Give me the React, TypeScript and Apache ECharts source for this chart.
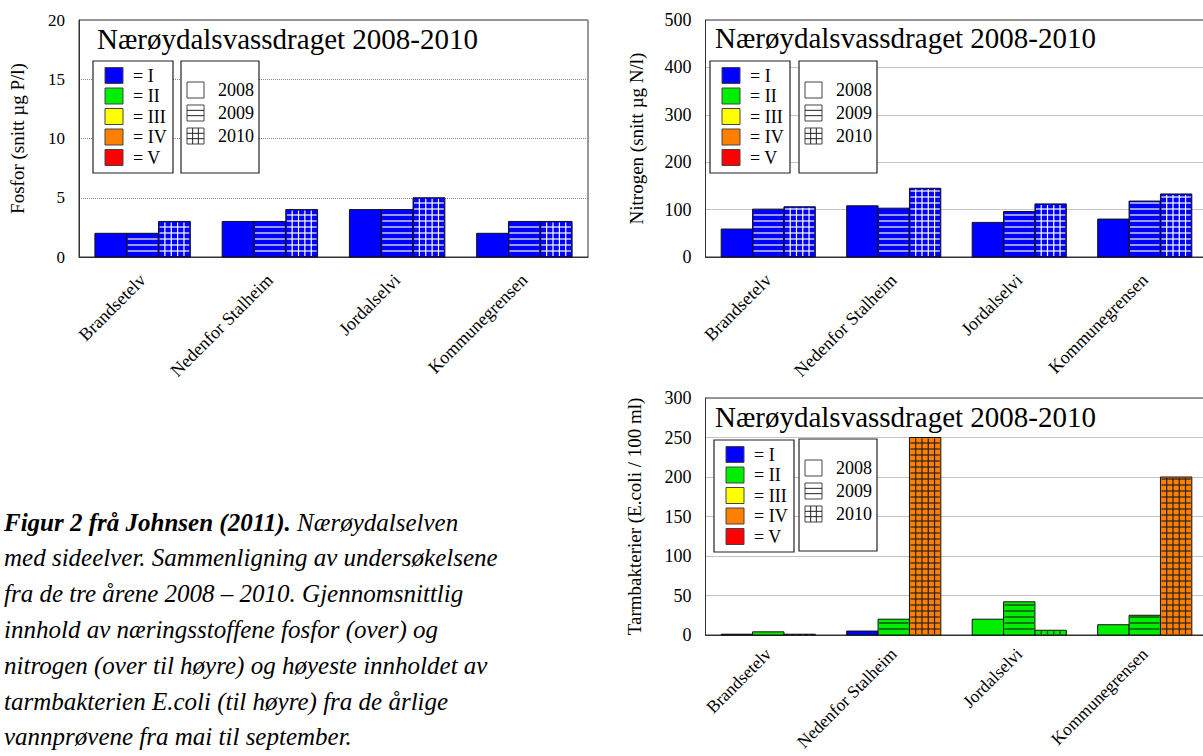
import React, { useEffect, useRef } from "react";
import * as echarts from "echarts";

const FONT = "Liberation Serif";

const categories = ["Brandsetelv", "Nedenfor Stalheim", "Jordalselvi", "Kommunegrensen"];
const years = ["2008", "2009", "2010"];
const classLabels = ["= I", "= II", "= III", "= IV", "= V"];
const classColors = ["#0000ff", "#00ee00", "#ffff00", "#ff8000", "#ff0000"];
const chartTitle = "Nærøydalsvassdraget 2008-2010";

// Fosfor (snitt µg P/l)
const fosfor2008 = [2, 3, 4, 2];
const fosfor2009 = [2, 3, 4, 3];
const fosfor2010 = [3, 4, 5, 3];
const fosforClass2008 = [0, 0, 0, 0];
const fosforClass2009 = [0, 0, 0, 0];
const fosforClass2010 = [0, 0, 0, 0];

// Nitrogen (snitt µg N/l)
const nitrogen2008 = [59, 108, 73, 80];
const nitrogen2009 = [101, 103, 96, 118];
const nitrogen2010 = [106, 145, 112, 133];
const nitrogenClass2008 = [0, 0, 0, 0];
const nitrogenClass2009 = [0, 0, 0, 0];
const nitrogenClass2010 = [0, 0, 0, 0];

// Tarmbakterier (E.coli / 100 ml)
const ecoli2008 = [1, 5, 20, 13];
const ecoli2009 = [4, 20, 42, 25];
const ecoli2010 = [1, 250, 6, 200];
const ecoliClass2008 = [0, 0, 1, 1];
const ecoliClass2009 = [1, 1, 1, 1];
const ecoliClass2010 = [0, 3, 1, 3];

const captionBold = "Figur 2 frå Johnsen (2011).";
const captionLines = [
  " Nærøydalselven",
  "med sideelver. Sammenligning av undersøkelsene",
  "fra de tre årene 2008 – 2010. Gjennomsnittlig",
  "innhold av næringsstoffene fosfor (over) og",
  "nitrogen (over til høyre) og høyeste innholdet av",
  "tarmbakterien E.coli (til høyre) fra de årlige",
  "vannprøvene fra mai til september.",
];

function makeRenderItem(yearIdx: number) {
  return (params: any, api: any) => {
    const cat = api.value(0);
    const val = api.value(1);
    const cls = api.value(2);
    const base = api.coord([cat, 0]);
    const top = api.coord([cat, val]);
    const band = api.size([1, 0])[0];
    const bw = band * 0.25;
    const x0 = base[0] - 1.5 * bw + yearIdx * bw;
    const y0 = top[1];
    const y1 = base[1];
    const h = y1 - y0;
    const fill = classColors[cls];
    const lc = cls === 0 ? "#ffffff" : "#222222";
    const children: any[] = [
      { type: "rect", shape: { x: x0, y: y0, width: bw, height: h }, style: { fill, stroke: null } },
    ];
    if (yearIdx >= 1) {
      for (let yy = y1 - 6; yy > y0 + 1; yy -= 6) {
        children.push({
          type: "line",
          shape: { x1: x0 + 1, y1: yy, x2: x0 + bw - 1, y2: yy },
          style: { stroke: lc, lineWidth: 1.2 },
        });
      }
    }
    if (yearIdx === 2) {
      for (let k = 1; k < 5; k++) {
        const xx = x0 + (k * bw) / 5;
        children.push({
          type: "line",
          shape: { x1: xx, y1: y0 + 1, x2: xx, y2: y1 - 1 },
          style: { stroke: lc, lineWidth: 1.2 },
        });
      }
    }
    children.push({
      type: "rect",
      shape: { x: x0, y: y0, width: bw, height: h },
      style: { fill: "none", stroke: "#111", lineWidth: 1 },
    });
    return { type: "group", children };
  };
}

function seriesFor(gridIdx: number, values: number[][], classes: number[][]) {
  return values.map((vals, yi) => ({
    type: "custom",
    name: years[yi],
    xAxisIndex: gridIdx,
    yAxisIndex: gridIdx,
    encode: { x: 0, y: 1 },
    renderItem: makeRenderItem(yi),
    data: vals.map((v, ci) => [ci, v, classes[yi][ci]]),
    z: 3,
  }));
}

function legendGraphics(b1x: number, b1y: number, b2x: number, b2y: number) {
  const els: any[] = [];
  els.push({
    type: "rect",
    z: 50,
    shape: { x: b1x, y: b1y, width: 80, height: 112 },
    style: { fill: "#fff", stroke: "#222", lineWidth: 1.2 },
  });
  classLabels.forEach((lab, i) => {
    const cy = b1y + 14.5 + i * 20.5;
    els.push({
      type: "rect",
      z: 51,
      shape: { x: b1x + 12, y: cy - 8, width: 18, height: 16 },
      style: { fill: classColors[i], stroke: "#444", lineWidth: 1 },
    });
    els.push({
      type: "text",
      z: 51,
      style: { text: lab, x: b1x + 40, y: cy, fontSize: 18, fontFamily: FONT, fill: "#000", verticalAlign: "middle", align: "left" },
    });
  });
  els.push({
    type: "rect",
    z: 50,
    shape: { x: b2x, y: b2y, width: 78, height: 112 },
    style: { fill: "#fff", stroke: "#222", lineWidth: 1.2 },
  });
  years.forEach((yr, i) => {
    const cy = b2y + 29 + i * 23;
    const sx = b2x + 6;
    const sy = cy - 8;
    const w = 17;
    const hh = 16;
    els.push({
      type: "rect",
      z: 51,
      shape: { x: sx, y: sy, width: w, height: hh },
      style: { fill: "#fff", stroke: "#444", lineWidth: 1 },
    });
    if (i >= 1) {
      [1, 2].forEach((k) => {
        els.push({
          type: "line",
          z: 52,
          shape: { x1: sx, y1: sy + (k * hh) / 3, x2: sx + w, y2: sy + (k * hh) / 3 },
          style: { stroke: "#222", lineWidth: 1 },
        });
      });
    }
    if (i === 2) {
      [1, 2].forEach((k) => {
        els.push({
          type: "line",
          z: 52,
          shape: { x1: sx + (k * w) / 3, y1: sy, x2: sx + (k * w) / 3, y2: sy + hh },
          style: { stroke: "#222", lineWidth: 1 },
        });
      });
    }
    els.push({
      type: "text",
      z: 51,
      style: { text: yr, x: b2x + 37, y: cy, fontSize: 18, fontFamily: FONT, fill: "#000", verticalAlign: "middle", align: "left" },
    });
  });
  return els;
}

function titleGraphic(x: number, y: number) {
  return {
    type: "text",
    z: 50,
    style: { text: chartTitle, x, y, fontSize: 29, fontFamily: FONT, fill: "#000", verticalAlign: "middle", align: "left" },
  };
}

export default function App() {
  const ref = useRef<HTMLDivElement>(null);
  useEffect(() => {
    if (!ref.current) return;
    const chart = echarts.init(ref.current, null, { renderer: "svg" });
    const gridBase = {
      show: true,
      borderColor: "#333",
      borderWidth: 1,
      backgroundColor: "transparent",
      containLabel: false,
      outerBoundsMode: "none",
    };
    const xAxisBase = (i: number, margin: number, fs: number) => ({
      type: "category",
      gridIndex: i,
      data: categories,
      axisTick: { show: false },
      axisLine: { lineStyle: { color: "#333", width: 1 } },
      axisLabel: {
        rotate: 45,
        interval: 0,
        fontSize: fs,
        color: "#000",
        fontFamily: FONT,
        margin,
      },
      splitLine: { show: false },
    });
    const yAxisBase = (i: number, max: number, interval: number, name: string, gap: number, fs: number) => ({
      type: "value",
      gridIndex: i,
      min: 0,
      max,
      interval,
      name,
      nameLocation: "middle",
      nameRotate: 90,
      nameGap: gap,
      nameTextStyle: { fontSize: 19, fontFamily: FONT, color: "#000" },
      axisLine: { show: true, lineStyle: { color: "#333", width: 1 } },
      axisTick: { show: false },
      axisLabel: { fontSize: fs, color: "#000", fontFamily: FONT, margin: 14 },
      splitLine: { show: true, lineStyle: { color: "#888", type: "dotted", width: 1 } },
    });

    const caption: any[] = [];
    const capX = 4;
    const capY0 = 522;
    const capStep = 35.8;
    caption.push({
      type: "text",
      z: 50,
      style: {
        text: "{b|" + captionBold + "}{n|" + captionLines[0] + "}",
        x: capX,
        y: capY0,
        fontSize: 25,
        fontFamily: FONT,
        fontStyle: "italic",
        fill: "#000",
        verticalAlign: "middle",
        align: "left",
        rich: {
          b: { fontWeight: "bold", fontStyle: "italic", fontSize: 25, fontFamily: FONT, fill: "#000" },
          n: { fontStyle: "italic", fontSize: 25, fontFamily: FONT, fill: "#000" },
        },
      },
    });
    for (let i = 1; i < captionLines.length; i++) {
      caption.push({
        type: "text",
        z: 50,
        style: {
          text: captionLines[i],
          x: capX,
          y: capY0 + i * capStep,
          fontSize: 25,
          fontFamily: FONT,
          fontStyle: "italic",
          fill: "#000",
          verticalAlign: "middle",
          align: "left",
        },
      });
    }

    const option: any = {
      animation: false,
      textStyle: { fontFamily: FONT, color: "#000" },
      grid: [
        { ...gridBase, left: 79, top: 20, width: 509, height: 237 },
        { ...gridBase, left: 705.5, top: 20, width: 502, height: 237 },
        { ...gridBase, left: 705.5, top: 398, width: 502, height: 237 },
      ],
      xAxis: [xAxisBase(0, 20, 18), xAxisBase(1, 20, 18), xAxisBase(2, 16, 17.5)],
      yAxis: [
        yAxisBase(0, 20, 5, "Fosfor (snitt µg P/l)", 52, 17),
        yAxisBase(1, 500, 100, "Nitrogen (snitt µg N/l)", 60, 18),
        yAxisBase(2, 300, 50, "Tarmbakterier (E.coli / 100 ml)", 62, 18),
      ],
      series: [
        ...seriesFor(0, [fosfor2008, fosfor2009, fosfor2010], [fosforClass2008, fosforClass2009, fosforClass2010]),
        ...seriesFor(1, [nitrogen2008, nitrogen2009, nitrogen2010], [nitrogenClass2008, nitrogenClass2009, nitrogenClass2010]),
        ...seriesFor(2, [ecoli2008, ecoli2009, ecoli2010], [ecoliClass2008, ecoliClass2009, ecoliClass2010]),
      ],
      graphic: {
        elements: [
          titleGraphic(97, 38.5),
          ...legendGraphics(93, 61, 181, 61),
          titleGraphic(715, 38),
          ...legendGraphics(710, 61, 799, 61),
          titleGraphic(715, 417),
          ...legendGraphics(714, 440, 799, 439),
          ...caption,
        ],
      },
    };
    chart.setOption(option);
    return () => chart.dispose();
  }, []);
  return <div ref={ref} style={{ position: "absolute", left: 0, top: 0, width: 1203, height: 756 }} />;
}
